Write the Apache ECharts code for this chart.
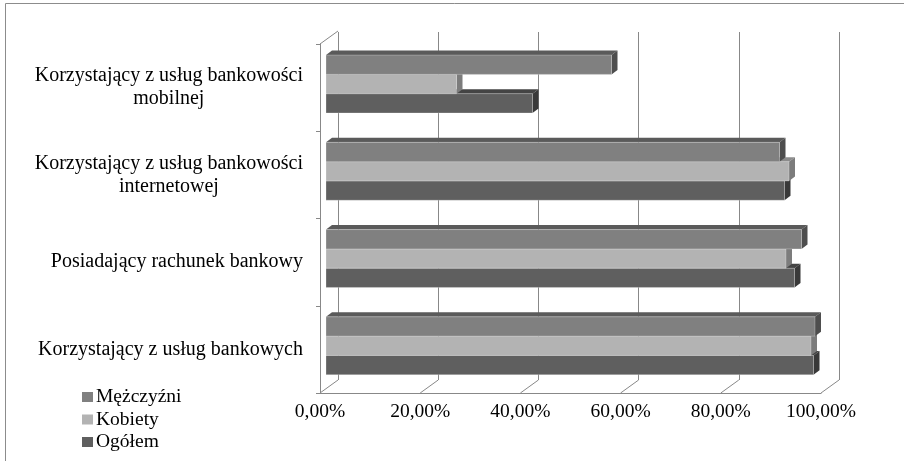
<!DOCTYPE html>
<html>
<head>
<meta charset="utf-8">
<script src="https://cdn.jsdelivr.net/npm/echarts@6/dist/echarts.min.js"></script>
<style>
html, body { margin: 0; padding: 0; background: #fff; }
#chart { width: 904px; height: 461px; }
</style>
</head>
<body>
<div id="chart"></div>
<script>
// kategorie od dołu do góry
var categories = [
    'Korzystający z usług bankowych',
    'Posiadający rachunek bankowy',
    'Korzystający z usług bankowości\ninternetowej',
    'Korzystający z usług bankowości\nmobilnej'
];
var mezczyzni = [97.8, 95.1, 90.7, 57.1];
var kobiety = [97.0, 92.0, 92.6, 26.1];
var ogolem = [97.5, 93.7, 91.7, 41.3];
var tickValues = [0, 20, 40, 60, 80, 100];
var legendNames = ['Mężczyźni', 'Kobiety', 'Ogółem'];

var FONT = 'Liberation Serif';
var FS = 19.5;
var FS_CAT = 20;
var GRID_LINE = '#888888';
var DEPTH_X = 18, DEPTH_Y = -13;     // glebokosc podlogi
var BAR_DX = 6, BAR_DY = -4.5;      // glebokosc slupka
var BAR_H = 19.3;

// kolory: przod, gora, bok
var shades = {
    'Mężczyźni': ['#808080', '#5a5a5a', '#4e4e4e'],
    'Kobiety': ['#b3b3b3', '#8c8c8c', '#7c7c7c'],
    'Ogółem': ['#5f5f5f', '#444444', '#393939']
};

function barRenderer(name, slot) {
    var c = shades[name];
    return function (params, api) {
        var cat = api.value(1);
        var base = api.coord([0, cat]);
        var end = api.coord([api.value(0), cat]);
        var cy = base[1] + slot * BAR_H;
        var x0 = base[0], x1 = end[0];
        var y0 = cy - BAR_H / 2, y1 = cy + BAR_H / 2;
        return {
            type: 'group',
            children: [
                { type: 'polygon', shape: { points: [[x0, y0], [x1, y0], [x1 + BAR_DX, y0 + BAR_DY], [x0 + BAR_DX, y0 + BAR_DY]] },
                  style: { fill: c[1] } },
                { type: 'polygon', shape: { points: [[x1, y0], [x1 + BAR_DX, y0 + BAR_DY], [x1 + BAR_DX, y1 + BAR_DY], [x1, y1]] },
                  style: { fill: c[2] } },
                { type: 'rect', shape: { x: x0, y: y0, width: x1 - x0, height: y1 - y0 },
                  style: { fill: c[0], stroke: 'rgba(255,255,255,0.25)', lineWidth: 1 } }
            ]
        };
    };
}

function barSeries(name, values, slot) {
    return {
        type: 'custom',
        name: name,
        xAxisIndex: 2,
        yAxisIndex: 2,
        itemStyle: { color: shades[name][0] },
        renderItem: barRenderer(name, slot),
        encode: { x: 0, y: 1 },
        data: values.map(function (v, i) { return [v, i]; }),
        silent: true
    };
}

function fmtPct(v) {
    return v.toFixed(2).replace('.', ',') + '%';
}

var chart = echarts.init(document.getElementById('chart'));
chart.setOption({
    animation: false,
    backgroundColor: '#fff',
    textStyle: { fontFamily: FONT },
    graphic: [{
        type: 'polyline',
        shape: { points: [[5.5, 461], [5.5, 3.5], [904, 3.5]] },
        style: { stroke: '#8c8c8c', lineWidth: 1, fill: null },
        silent: true
    }],
    legend: {
        orient: 'vertical',
        left: 82,
        top: 387,
        padding: 0,
        icon: 'rect',
        itemWidth: 11,
        itemHeight: 10,
        itemGap: 2.5,
        selectedMode: false,
        data: legendNames,
        textStyle: { fontFamily: FONT, fontSize: FS, color: '#000', lineHeight: 20, padding: [0, 0, 0, -2] }
    },
    grid: [
        // tylna sciana
        { left: 338, top: 32, width: 501, height: 348 },
        // przednia krawedz
        { left: 320, top: 44, width: 501, height: 349 },
        // slupki
        { left: 326, top: 40.4, width: 500, height: 349 }
    ],
    xAxis: [
        { gridIndex: 0, type: 'value', min: 0, max: 100, interval: 20,
          axisLine: { show: false }, axisTick: { show: false }, axisLabel: { show: false },
          splitLine: { show: true, lineStyle: { color: GRID_LINE, width: 1 } } },
        { gridIndex: 1, type: 'value', min: 0, max: 100, interval: 20,
          axisLine: { show: true, lineStyle: { color: GRID_LINE, width: 1 } },
          axisTick: { show: false }, splitLine: { show: false },
          axisLabel: { margin: 9, fontFamily: FONT, fontSize: FS, color: '#000', formatter: fmtPct } },
        { gridIndex: 2, type: 'value', min: 0, max: 100, show: false, splitLine: { show: false } }
    ],
    yAxis: [
        { gridIndex: 0, type: 'value', show: false, splitLine: { show: false } },
        { gridIndex: 1, type: 'category', data: categories,
          axisLine: { show: true, lineStyle: { color: GRID_LINE, width: 1 } },
          axisTick: { show: true, length: 4, lineStyle: { color: GRID_LINE } },
          splitLine: { show: false },
          axisLabel: {
              margin: 17,
              align: 'right',
              lineHeight: 23,
              formatter: function (v) {
                  return v.split('\n').map(function (l) { return '{c|' + l + '}'; }).join('\n');
              },
              rich: { c: { align: 'center', fontFamily: FONT, fontSize: FS_CAT, color: '#000', lineHeight: 23 } }
          } },
        { gridIndex: 2, type: 'category', data: categories, show: false }
    ],
    series: [
        {
            // ukosne krawedzie podlogi i lewej sciany
            type: 'custom',
            xAxisIndex: 1,
            yAxisIndex: 1,
            silent: true,
            encode: { x: 0, y: 1 },
            data: tickValues.map(function (t) { return [t, 0]; }),
            renderItem: function (params, api) {
                var cs = params.coordSys;
                var p = api.coord([api.value(0), 0]);
                var yb = cs.y + cs.height;
                var children = [{
                    type: 'line',
                    shape: { x1: p[0], y1: yb, x2: p[0] + DEPTH_X, y2: yb + DEPTH_Y },
                    style: { stroke: GRID_LINE, lineWidth: 1 }
                }];
                if (params.dataIndex === 0) {
                    children.push({
                        type: 'line',
                        shape: { x1: cs.x, y1: cs.y, x2: cs.x + DEPTH_X, y2: cs.y + DEPTH_Y },
                        style: { stroke: GRID_LINE, lineWidth: 1 }
                    });
                }
                return { type: 'group', children: children };
            }
        },
        // rysowane od dolu, zeby gorne slupki zaslanialy dolne
        barSeries('Ogółem', ogolem, 1),
        barSeries('Kobiety', kobiety, 0),
        barSeries('Mężczyźni', mezczyzni, -1)
    ]
});
</script>
</body>
</html>
